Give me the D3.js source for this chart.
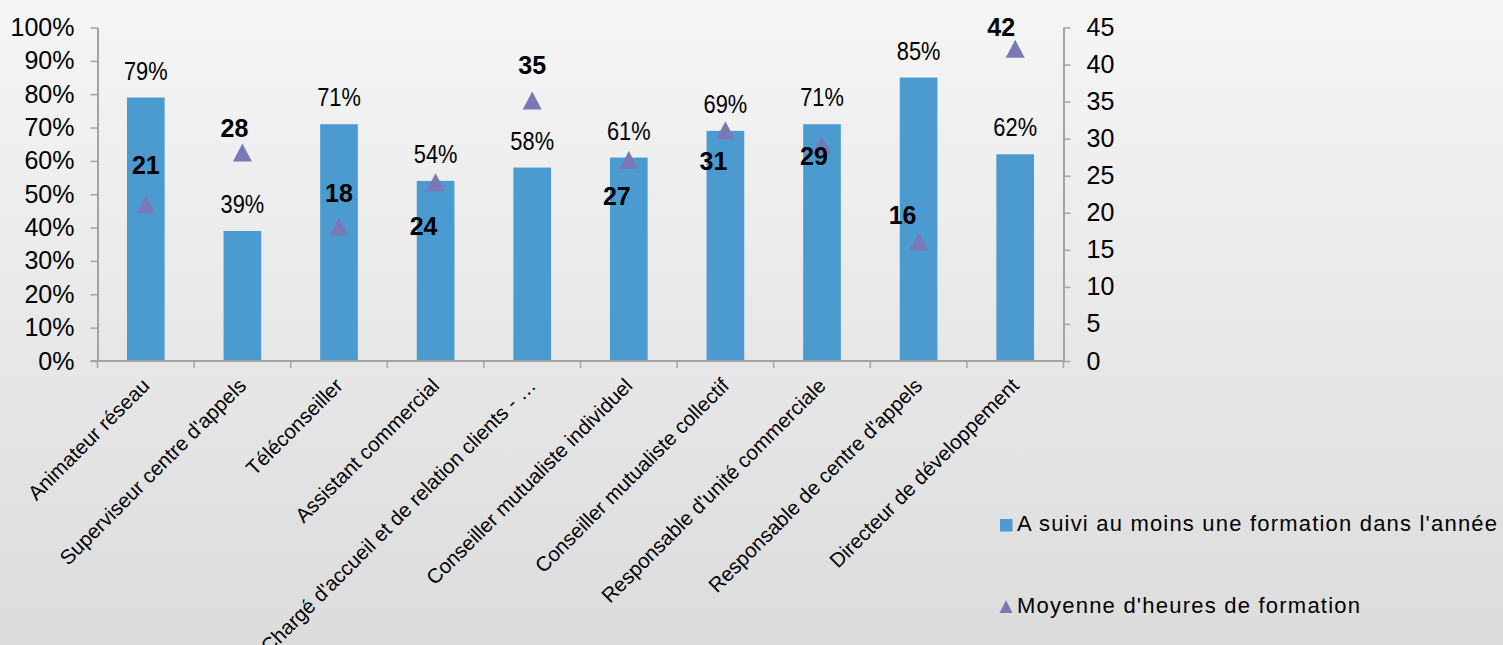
<!DOCTYPE html>
<html>
<head>
<meta charset="utf-8">
<script src="https://cdn.jsdelivr.net/npm/d3@7"></script>
<style>
  html, body { margin: 0; padding: 0; overflow: hidden; background: #eeeeee; }
  svg { display: block; }
  text { font-family: "Liberation Sans", Arial, Helvetica, sans-serif; fill: #000; }
</style>
</head>
<body>
<svg id="chart" width="1503" height="645"></svg>
<script>
// Job families
const categories = [
  "Animateur réseau",
  "Superviseur centre d'appels",
  "Téléconseiller",
  "Assistant commercial",
  "Chargé d'accueil et de relation clients - …",
  "Conseiller mutualiste individuel",
  "Conseiller mutualiste collectif",
  "Responsable d'unité commerciale",
  "Responsable de centre d'appels",
  "Directeur de développement"
];
// Share of employees with at least one training in the year (%)
const pctTrained = [79, 39, 71, 54, 58, 61, 69, 71, 85, 62];
// Average number of training hours
const avgHours = [21, 28, 18, 24, 35, 27, 31, 29, 16, 42];

const pctTicks = [0, 10, 20, 30, 40, 50, 60, 70, 80, 90, 100];
const hourTicks = [0, 5, 10, 15, 20, 25, 30, 35, 40, 45];
const seriesNames = ["A suivi au moins une formation dans l'année", "Moyenne d'heures de formation"];

// Placement of the hour labels relative to their marker (px)
const hourLabelOffsets = [[0, -31], [-8, -16], [0, -26], [-12, 52], [0, -28], [-12, 44], [-12, 39], [-8, 19], [-16, -18], [-14, -14]];

const W = 1503, H = 645;
const plot = { left: 97.5, right: 1063.5, top: 27.5, bottom: 361 };
const barColor = "#4b9bd1";
const markerColor = "#7b78b8";
const axisColor = "#a3a3a3";

const svg = d3.select("#chart");

// background gradient
const defs = svg.append("defs");
const grad = defs.append("linearGradient").attr("id", "bg").attr("x1", 0).attr("y1", 0).attr("x2", 0).attr("y2", 1);
grad.append("stop").attr("offset", "0%").attr("stop-color", "#f5f5f5");
grad.append("stop").attr("offset", "100%").attr("stop-color", "#dcdcdc");
svg.append("rect").attr("width", W).attr("height", H).attr("fill", "url(#bg)");

const x = d3.scaleBand().domain(categories).range([plot.left, plot.right]).padding(0);
const yPct = d3.scaleLinear().domain([0, 100]).range([plot.bottom, plot.top]);
const yHours = d3.scaleLinear().domain([0, 45]).range([plot.bottom, plot.top]);

const barW = x.bandwidth() * 0.39;
const cx = c => x(c) + x.bandwidth() / 2;

// bars
svg.append("g").selectAll("rect").data(categories).join("rect")
  .attr("x", c => cx(c) - barW / 2)
  .attr("width", barW)
  .attr("y", (c, i) => yPct(pctTrained[i]))
  .attr("height", (c, i) => plot.bottom - yPct(pctTrained[i]))
  .attr("fill", barColor);

// left axis
const leftAxis = svg.append("g").attr("transform", `translate(${plot.left},0)`)
  .call(d3.axisLeft(yPct).tickValues(pctTicks).tickFormat(d => d + "%").tickSize(7).tickSizeOuter(0).tickPadding(16));
// right axis
const rightAxis = svg.append("g").attr("transform", `translate(${plot.right},0)`)
  .call(d3.axisRight(yHours).tickValues(hourTicks).tickSize(7).tickSizeOuter(0).tickPadding(16));

[leftAxis, rightAxis].forEach(g => {
  g.select(".domain").attr("stroke", axisColor).attr("stroke-width", 2);
  g.selectAll(".tick line").attr("stroke", axisColor).attr("stroke-width", 1.5);
  g.selectAll(".tick text").attr("font-size", 25).attr("fill", "#000")
    .style("font-family", '"Liberation Sans", Arial, sans-serif');
});

// category axis
const bottom = svg.append("g");
bottom.append("line")
  .attr("x1", plot.left - 7).attr("x2", plot.right)
  .attr("y1", plot.bottom).attr("y2", plot.bottom)
  .attr("stroke", axisColor).attr("stroke-width", 2);
const tickXs = categories.map(c => x(c)).concat([x.range()[1]]);
bottom.selectAll("line.tick").data(tickXs).join("line").attr("class", "tick")
  .attr("x1", d => d).attr("x2", d => d)
  .attr("y1", plot.bottom).attr("y2", plot.bottom + 7)
  .attr("stroke", axisColor).attr("stroke-width", 1.5);
bottom.selectAll("text").data(categories).join("text")
  .attr("transform", c => `translate(${cx(c) + 5},${plot.bottom + 26}) rotate(-45)`)
  .attr("text-anchor", "end")
  .attr("font-size", 20.5)
  .text(c => c);

// percentage labels above bars
svg.append("g").selectAll("text").data(categories).join("text")
  .attr("transform", (c, i) => `translate(${cx(c)},${yPct(pctTrained[i]) - 18}) scale(0.84,1)`)
  .attr("text-anchor", "middle")
  .attr("font-size", 26)
  .text((c, i) => pctTrained[i] + "%");

// triangle markers for average hours
const tri = "M0,-10 L9.5,8 L-9.5,8 Z";
svg.append("g").selectAll("path").data(categories).join("path")
  .attr("d", tri)
  .attr("transform", (c, i) => `translate(${cx(c)},${yHours(avgHours[i])})`)
  .attr("fill", markerColor);

// hour labels
svg.append("g").selectAll("text").data(categories).join("text")
  .attr("x", (c, i) => cx(c) + hourLabelOffsets[i][0])
  .attr("y", (c, i) => yHours(avgHours[i]) + hourLabelOffsets[i][1])
  .attr("text-anchor", "middle")
  .attr("font-size", 25)
  .attr("font-weight", "bold")
  .text((c, i) => avgHours[i]);

// legend
const legend = svg.append("g");
legend.append("rect").attr("x", 1000).attr("y", 519).attr("width", 12.5).attr("height", 12.5).attr("fill", barColor);
legend.append("text").attr("x", 1017).attr("y", 531).attr("font-size", 22)
  .attr("textLength", 480).attr("lengthAdjust", "spacing").text(seriesNames[0]);
legend.append("path").attr("d", "M0,-6.5 L6.5,6.5 L-6.5,6.5 Z")
  .attr("transform", "translate(1006,606.5)").attr("fill", markerColor);
legend.append("text").attr("x", 1017).attr("y", 613).attr("font-size", 22)
  .attr("textLength", 343).attr("lengthAdjust", "spacing").text(seriesNames[1]);
</script>
</body>
</html>
